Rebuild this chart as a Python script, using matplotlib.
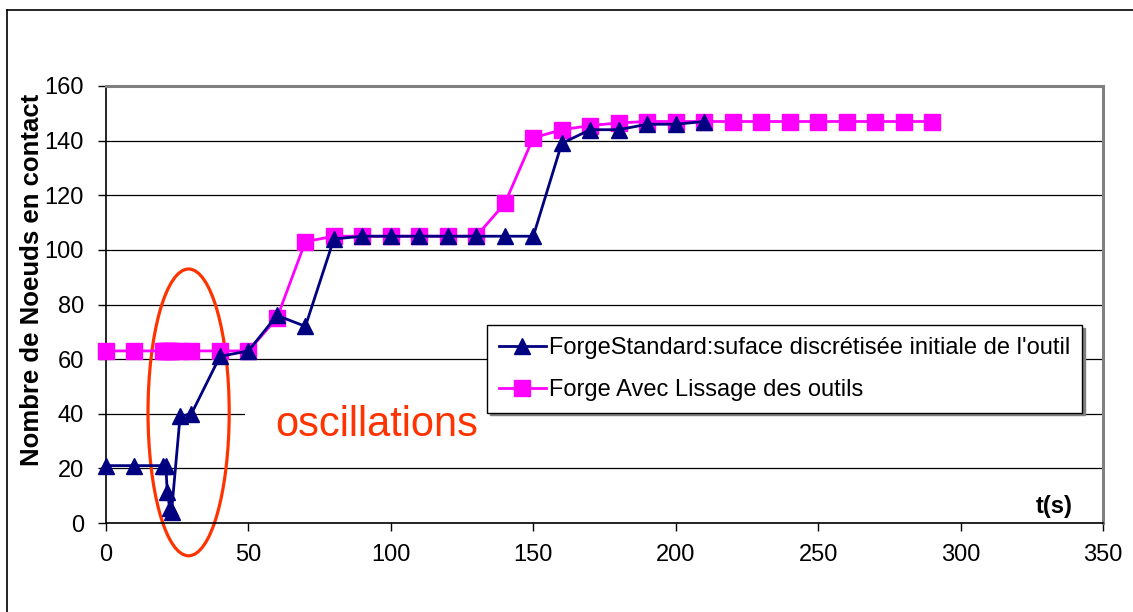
import matplotlib
matplotlib.use("Agg")
import matplotlib.pyplot as plt
from matplotlib.patches import Ellipse, Rectangle
from matplotlib.lines import Line2D

plt.rcParams['font.family'] = ['Liberation Sans', 'DejaVu Sans']

# series
t_standard = [0, 10, 20, 21, 21.5, 22.4, 23, 26, 30, 40, 50, 60, 70, 80, 90, 100, 110, 120, 130,
              140, 150, 160, 170, 180, 190, 200, 210]
n_standard = [21, 21, 21, 21, 11.5, 5.4, 4, 39, 40, 61, 63, 76, 72, 104, 105, 105, 105, 105, 105,
              105, 105, 139, 144, 144, 146, 146, 147]

t_lissage = [0, 10, 20, 21, 21.5, 22.4, 23, 26, 30, 40, 50, 60, 70, 80, 90, 100, 110, 120, 130,
             140, 150, 160, 170, 180, 190, 200, 210, 220, 230, 240, 250, 260, 270, 280, 290]
n_lissage = [63, 63, 63, 63, 63, 63, 63, 63, 63, 63, 63, 75, 103, 105, 105, 105, 105, 105, 105,
             117, 141, 144, 145.5, 146.5, 147, 147, 147, 147, 147, 147, 147, 147, 147, 147, 147]

label_standard = "ForgeStandard:suface discrétisée initiale de l'outil"
label_lissage = "Forge Avec Lissage des outils"

x_ticks = [0, 50, 100, 150, 200, 250, 300, 350]
y_ticks = [0, 20, 40, 60, 80, 100, 120, 140, 160]

navy = '#000080'
magenta = '#FF00FF'
red = '#FF3300'
fs = 17

fig = plt.figure(figsize=(11.33, 6.12), dpi=100)
ax = fig.add_axes([106/1133, 1-523/612, (1103-106)/1133, (523-86)/612])

# outer chart frame (top + left, it runs off the picture at right/bottom)
fig.add_artist(Line2D([7/1133, 7/1133], [0, 1-10/612], color='black', lw=1.2, transform=fig.transFigure))
fig.add_artist(Line2D([7/1133, 1], [1-10/612, 1-10/612], color='black', lw=1.2, transform=fig.transFigure))

ax.set_xlim(0, 350)
ax.set_ylim(0, 160)
ax.set_xticks(x_ticks)
ax.set_yticks(y_ticks)
ax.tick_params(axis='both', direction='out', length=6, width=1, labelsize=fs, color='black')
ax.tick_params(axis='x', pad=9)
ax.tick_params(axis='y', pad=10)

ax.set_axisbelow(True)
ax.yaxis.grid(True, color='black', lw=0.9)
ax.xaxis.grid(False)
for side in ['top', 'right']:
    ax.spines[side].set_color('#808080')
    ax.spines[side].set_linewidth(2.2)
for side in ['left', 'bottom']:
    ax.spines[side].set_color('black')
    ax.spines[side].set_linewidth(1.2)

ax.plot(t_standard, n_standard, color=navy, lw=2, marker='^', ms=11, mew=1, zorder=4,
        clip_on=False, label=label_standard)
ax.plot(t_lissage, n_lissage, color=magenta, lw=2, marker='s', ms=11, mew=1, zorder=3,
        clip_on=False, label=label_lissage)

ax.add_patch(Ellipse((29, 40.5), 28.5, 105, fill=False, edgecolor=red, lw=2.3, zorder=2,
                     clip_on=False))

# white box behind the annotation text hides the 40 gridline
ax.add_patch(Rectangle((48.8, 38), 93, 4.5, facecolor='white', edgecolor='none', zorder=1))
ax.text(95, 36, "oscillations", color=red, fontsize=30, ha='center', va='center', zorder=5)

ax.text(333, 6, "t(s)", fontsize=fs, fontweight='bold', ha='center', va='center')
ax.set_ylabel("Nombre de Noeuds en contact", fontsize=18.5, fontweight='bold')
ax.yaxis.set_label_coords(-0.062, 0.556)

leg = ax.legend(loc='upper left', bbox_to_anchor=(487/1133, 1-325/612), bbox_transform=fig.transFigure,
                fontsize=fs, frameon=True, fancybox=False, shadow={'color': '#808080', 'alpha': 1},
                borderpad=0.5, labelspacing=0.85, handlelength=2.0, handletextpad=0.12,
                borderaxespad=0)
leg.get_frame().set_edgecolor('black')
leg.get_frame().set_linewidth(1)

fig.savefig("out.png", dpi=100)
